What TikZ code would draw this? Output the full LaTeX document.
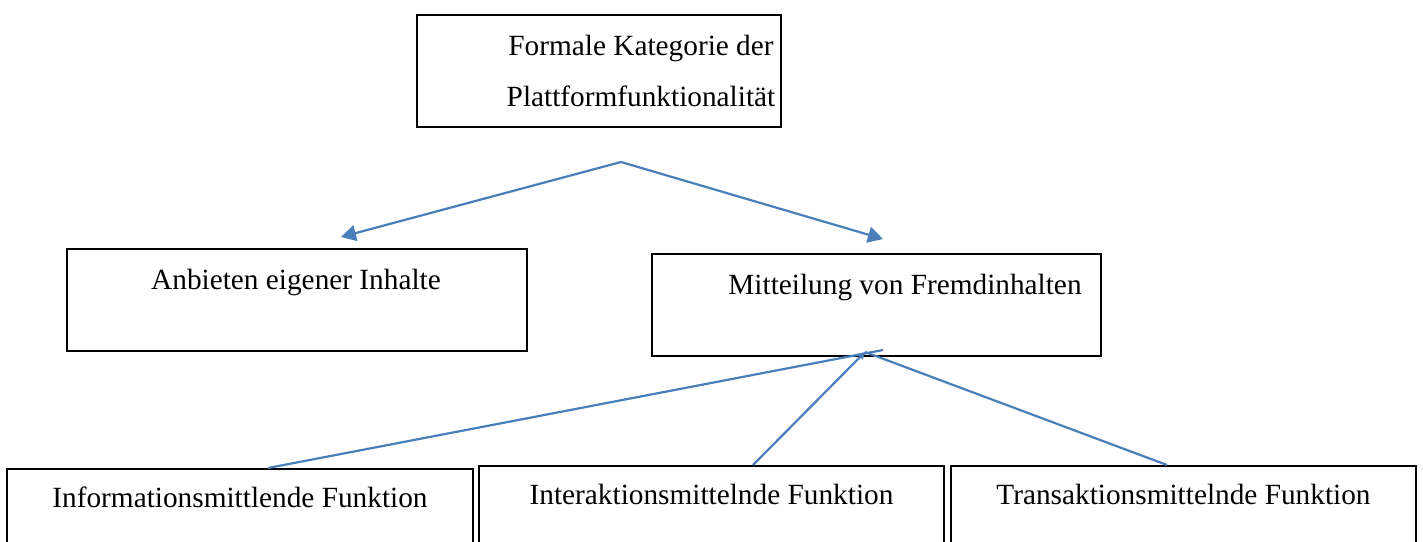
\documentclass[tikz,border=0pt]{standalone}
\usepackage{fontspec}
\setmainfont{Liberation Serif}
\usetikzlibrary{arrows.meta,calc}
\definecolor{wordblue}{RGB}{74,126,187}
\begin{document}
\begin{tikzpicture}[x=1pt,y=-1pt,
  box/.style={draw=black,line width=2pt,rectangle,inner sep=0pt},
  lbl/.style={anchor=base,inner sep=0pt,font=\fontsize{29.3}{46}\selectfont},
  conn/.style={draw=wordblue,line width=2.2pt},
  bigtip/.style={-{Triangle[length=15pt,width=16pt]}},
  smalltip/.style={-{Triangle[length=7pt,width=7pt]}}]
\useasboundingbox (0,0) rectangle (1423,541);
\clip (0,0) rectangle (1423,541);

% boxes
\node[box,minimum width=364pt,minimum height=112pt] (top) at (599,71) {};
\node[box,minimum width=460pt,minimum height=102pt] (anb) at (297,300) {};
\node[box,minimum width=449pt,minimum height=102pt] (mit) at (876.5,305) {};
\node[box,minimum width=466pt,minimum height=131pt] (info) at (240,534.5) {};
\node[box,minimum width=465pt,minimum height=134pt] (inter) at (711.5,533) {};
\node[box,minimum width=465pt,minimum height=134pt] (trans) at (1183.5,533) {};

% labels
\node[lbl] (t1) at (641,55) {Formale Kategorie der};
\node[lbl] (t2) at (641,106) {Plattformfunktionalität};
\node[lbl] (t3) at (296,289) {Anbieten eigener Inhalte};
\node[lbl] (t4) at (905,294) {Mitteilung von Fremdinhalten};
\node[lbl] (t5) at (240,507) {Informationsmittlende Funktion};
\node[lbl] (t6) at (711.5,504) {Interaktionsmittelnde Funktion};
\node[lbl] (t7) at (1183.5,504) {Transaktionsmittelnde Funktion};

% connectors
\coordinate (apex) at (621,162);
\draw[conn,bigtip] (apex) -- ($(anb.north)+(44,-11)$);
\draw[conn,bigtip] (apex) -- ($(mit.north)+(6.5,-14)$);
\draw[conn] ($(info.north)+(28,0)$) -- ($(mit.south)+(6.5,-7)$);
\draw[conn,smalltip] ($(inter.north)+(41.5,0)$) -- ($(mit.south)+(-11.5,-5)$);
\draw[conn] ($(trans.north)+(-16.5,0)$) -- ($(mit.south)+(-11.5,-5)$);
\end{tikzpicture}
\end{document}
